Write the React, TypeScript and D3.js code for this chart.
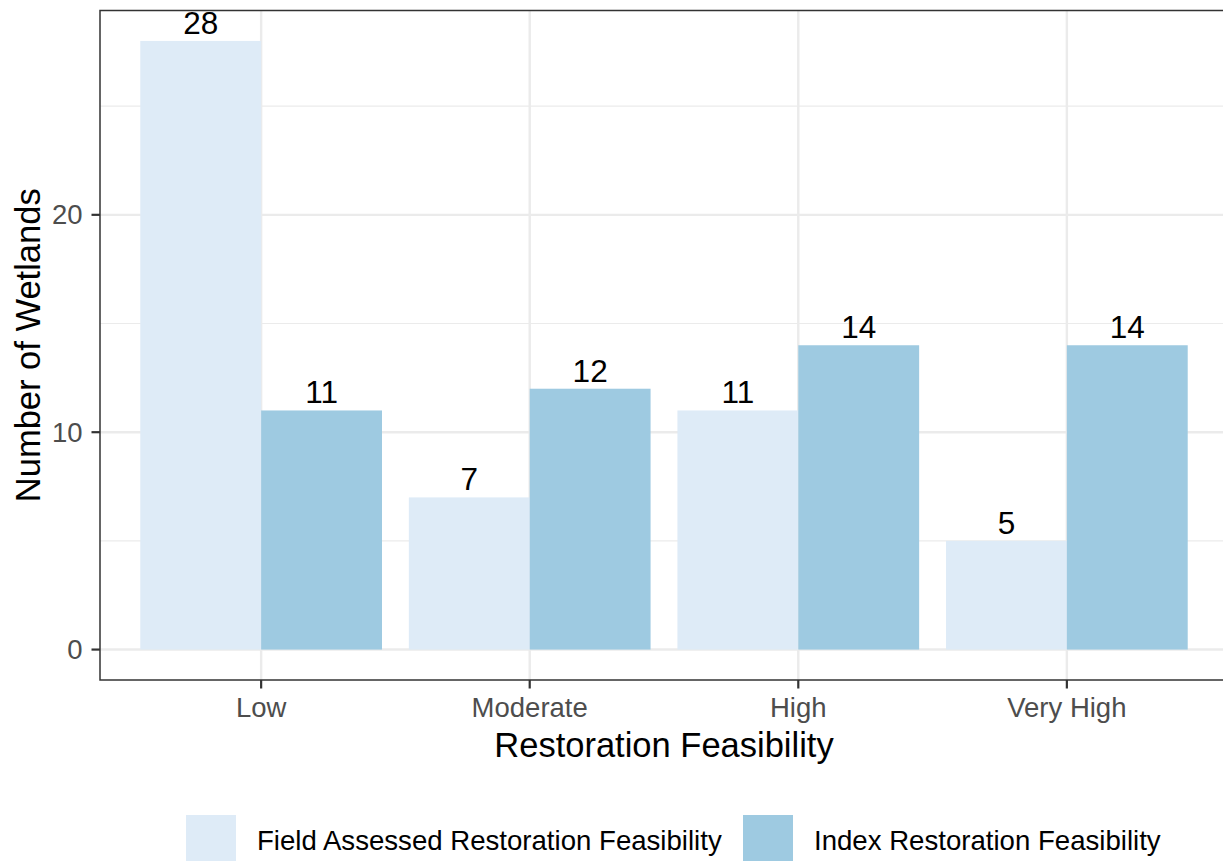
import React from "react";
import * as d3 from "d3";

const categories = ["Low", "Moderate", "High", "Very High"];
const seriesNames = ["Field Assessed Restoration Feasibility", "Index Restoration Feasibility"];
const fieldValues = [28, 7, 11, 5];
const indexValues = [11, 12, 14, 14];
const yTicks = [0, 10, 20];
const colors = ["#DEEBF7", "#9ECAE1"];

const W = 1223;
const H = 861;
const panel = { left: 100, right: 1228, top: 10.5, bottom: 680 };

export default function App() {
  const series = [fieldValues, indexValues];
  const x = d3
    .scaleBand<string>()
    .domain(categories)
    .range([panel.left, panel.right])
    .paddingInner(0)
    .paddingOuter(0.1);
  const step = x.step();
  const inner = d3
    .scaleBand<number>()
    .domain([0, 1])
    .range([-0.45 * step, 0.45 * step])
    .padding(0);
  const y = d3.scaleLinear().domain([-1.4, 29.4]).range([panel.bottom, panel.top]);
  const minorTicks = [5, 15, 25];
  const font = "'Liberation Sans', Arial, sans-serif";

  return (
    <div style={{ position: "absolute", left: 0, top: 0 }}>
      <svg width={W} height={H} style={{ display: "block", fontFamily: font }}>
        <rect x={0} y={0} width={W} height={H} fill="#ffffff" />
        <defs>
          <clipPath id="pclip">
            <rect x={panel.left} y={panel.top} width={panel.right - panel.left} height={panel.bottom - panel.top} />
          </clipPath>
        </defs>
        <g clipPath="url(#pclip)">
          {minorTicks.map((t) => (
            <line key={"mn" + t} x1={panel.left} x2={panel.right} y1={y(t)} y2={y(t)} stroke="#EBEBEB" strokeWidth={1.2} />
          ))}
          {yTicks.map((t) => (
            <line key={"mj" + t} x1={panel.left} x2={panel.right} y1={y(t)} y2={y(t)} stroke="#EBEBEB" strokeWidth={2.4} />
          ))}
          {categories.map((c) => {
            const cx = (x(c) as number) + step / 2;
            return <line key={"vx" + c} x1={cx} x2={cx} y1={panel.top} y2={panel.bottom} stroke="#EBEBEB" strokeWidth={2.4} />;
          })}
          {categories.map((c, i) => {
            const cx = (x(c) as number) + step / 2;
            return series.map((vals, s) => {
              const bx = cx + (inner(s) as number);
              return (
                <rect
                  key={c + s}
                  x={bx}
                  y={y(vals[i])}
                  width={inner.bandwidth()}
                  height={y(0) - y(vals[i])}
                  fill={colors[s]}
                />
              );
            });
          })}
          {categories.map((c, i) => {
            const cx = (x(c) as number) + step / 2;
            return series.map((vals, s) => {
              const bx = cx + (inner(s) as number) + inner.bandwidth() / 2;
              return (
                <text key={"l" + c + s} x={bx} y={y(vals[i]) - 7} textAnchor="middle" fontSize={31.5} fill="#000000">
                  {vals[i]}
                </text>
              );
            });
          })}
        </g>
        <rect
          x={panel.left}
          y={panel.top}
          width={panel.right - panel.left}
          height={panel.bottom - panel.top}
          fill="none"
          stroke="#333333"
          strokeWidth={1.5}
        />
        {yTicks.map((t) => (
          <g key={"yt" + t}>
            <line x1={panel.left - 8.5} x2={panel.left} y1={y(t)} y2={y(t)} stroke="#333333" strokeWidth={2.2} />
            <text x={panel.left - 17.5} y={y(t)} dy="0.35em" textAnchor="end" fontSize={27.5} fill="#4D4D4D">
              {t}
            </text>
          </g>
        ))}
        {categories.map((c) => {
          const cx = (x(c) as number) + step / 2;
          return (
            <g key={"xt" + c}>
              <line x1={cx} x2={cx} y1={panel.bottom} y2={panel.bottom + 8.5} stroke="#333333" strokeWidth={2.2} />
              <text x={cx} y={716.5} textAnchor="middle" fontSize={27.5} fill="#4D4D4D">
                {c}
              </text>
            </g>
          );
        })}
        <text x={(panel.left + panel.right) / 2} y={757} textAnchor="middle" fontSize={34.5} fill="#000000">
          Restoration Feasibility
        </text>
        <text
          transform={`translate(${40},${(panel.top + panel.bottom) / 2}) rotate(-90)`}
          textAnchor="middle"
          fontSize={34.5}
          fill="#000000"
        >
          Number of Wetlands
        </text>
        {seriesNames.map((name, s) => {
          const kx = [186, 743][s];
          return (
            <g key={"lg" + s}>
              <rect x={kx} y={815} width={50} height={50} fill={colors[s]} />
              <text x={kx + 71} y={850} fontSize={27.6} fill="#000000">
                {name}
              </text>
            </g>
          );
        })}
      </svg>
    </div>
  );
}
